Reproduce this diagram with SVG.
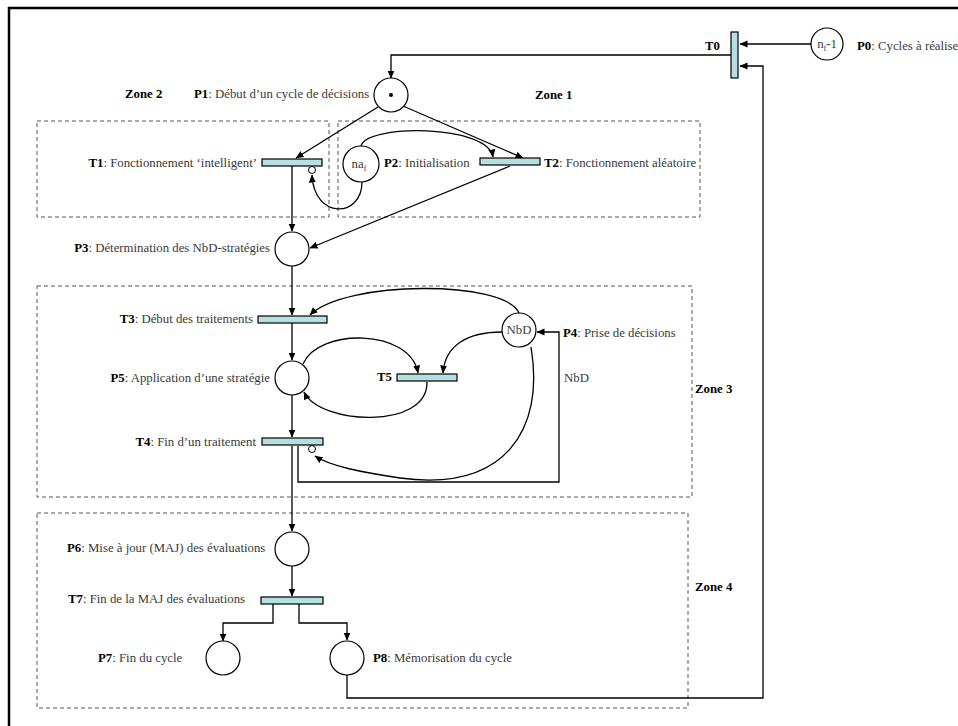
<svg xmlns="http://www.w3.org/2000/svg" width="958" height="726" viewBox="0 0 958 726">
<defs>
<marker id="ah" markerWidth="8" markerHeight="8" refX="7.5" refY="4" orient="auto" markerUnits="userSpaceOnUse">
<path d="M0,0.5 L8,4 L0,7.5 Z" fill="#000"/>
</marker>
</defs>
<style>
text{font-family:"Liberation Serif","Times New Roman",serif;font-size:12.8px;fill:#3a3a3a}
.b{font-weight:bold;fill:#000}
.z{font-weight:bold;fill:#000}
.pl{fill:#fff;stroke:#000;stroke-width:1.2}
.tr{fill:#b6dfe1;stroke:#000;stroke-width:1.2}
.zone{fill:none;stroke:#555;stroke-width:1;stroke-dasharray:4,3}
.c{fill:none;stroke:#000;stroke-width:1.3}
.a{marker-end:url(#ah)}
.inh{fill:#fff;stroke:#000;stroke-width:1}
</style>
<rect x="0" y="0" width="958" height="726" fill="#fff"/>
<rect x="9" y="8" width="1000" height="760" fill="none" stroke="#000" stroke-width="2.5"/>

<g id="zones">
<rect class="zone" x="37" y="121" width="292" height="96"/>
<rect class="zone" x="338" y="121" width="362" height="96"/>
<rect class="zone" x="37" y="286" width="655" height="211"/>
<rect class="zone" x="37" y="513" width="651" height="195"/>
<text class="z" x="125" y="98">Zone 2</text>
<text class="z" x="535" y="99">Zone 1</text>
<text class="z" x="695" y="393">Zone 3</text>
<text class="z" x="695" y="591">Zone 4</text>
</g>

<g id="connectors">
<line class="c a" x1="811" y1="44" x2="740" y2="44"/>
<polyline class="c a" points="731,55 391,55 391,78"/>
<polyline class="c a" points="347,675 347,698 763,698 763,66 740,66"/>
<line class="c a" x1="378" y1="107" x2="296" y2="158"/>
<line class="c a" x1="403" y1="106" x2="523" y2="158"/>
<path class="c a" d="M361,146 C366,124 488,124 493,157"/>
<path class="c a" d="M362,182 C362,218 314,220 312,175"/>
<circle class="inh" cx="312" cy="170" r="3.5"/>
<line class="c a" x1="292" y1="166" x2="292" y2="231"/>
<line class="c a" x1="510" y1="166" x2="310" y2="248"/>
<line class="c a" x1="292" y1="266" x2="292" y2="315"/>
<path class="c a" d="M519,313 C505,280 345,280 310,315"/>
<line class="c a" x1="292" y1="323" x2="292" y2="360"/>
<path class="c a" d="M303,364 C318,328 410,328 418,373"/>
<path class="c a" d="M502,332 C468,332 445,345 443,373"/>
<path class="c a" d="M427,382 C428,430 320,425 304,392"/>
<line class="c a" x1="292" y1="395" x2="292" y2="437"/>
<path class="c a" d="M531,347 C545,430 505,492 400,478 C360,472 330,466 315,456"/>
<circle class="inh" cx="312" cy="449" r="3.5"/>
<polyline class="c a" points="298,446 298,482 559,482 559,332 537,332"/>
<line class="c a" x1="292" y1="446" x2="292" y2="531"/>
<line class="c a" x1="292" y1="566" x2="292" y2="596"/>
<polyline class="c a" points="273,604 273,623 223,623 223,641"/>
<polyline class="c a" points="299,604 299,623 347,623 347,640"/>
</g>

<g id="T0">
<rect class="tr" x="731" y="32" width="7" height="46"/>
<text class="b" x="705" y="50">T0</text>
</g>
<g id="P0">
<circle class="pl" cx="827" cy="44" r="16"/>
<text x="827" y="48" text-anchor="middle" font-size="11">n<tspan dy="3" font-size="8">f</tspan><tspan dy="-3">-1</tspan></text>
<text x="857" y="50" font-size="11"><tspan class="b">P0</tspan>: Cycles à réalise</text>
</g>
<g id="P1">
<circle class="pl" cx="391" cy="95" r="17"/>
<circle cx="391" cy="95" r="2" fill="#000"/>
<text x="194" y="98"><tspan class="b">P1</tspan>: Début d’un cycle de décisions</text>
</g>
<g id="T1">
<rect class="tr" x="262" y="159" width="60" height="7"/>
<text x="257" y="167" text-anchor="end"><tspan class="b">T1</tspan>: Fonctionnement ‘intelligent’</text>
</g>
<g id="P2">
<circle class="pl" cx="361" cy="164" r="18"/>
<text x="359" y="168" text-anchor="middle" font-size="11">na<tspan dy="3" font-size="8">f</tspan></text>
<text x="384" y="167"><tspan class="b">P2</tspan>: Initialisation</text>
</g>
<g id="T2">
<rect class="tr" x="480" y="158" width="60" height="7"/>
<text x="544" y="167"><tspan class="b">T2</tspan>: Fonctionnement aléatoire</text>
</g>
<g id="P3">
<circle class="pl" cx="292" cy="249" r="17"/>
<text x="270" y="252" text-anchor="end"><tspan class="b">P3</tspan>: Détermination des NbD-stratégies</text>
</g>
<g id="T3">
<rect class="tr" x="258" y="316" width="69" height="7"/>
<text x="253" y="323" text-anchor="end"><tspan class="b">T3</tspan>: Début des traitements</text>
</g>
<g id="P4">
<circle class="pl" cx="519" cy="330" r="17"/>
<text x="519" y="334" text-anchor="middle" font-size="12">NbD</text>
<text x="563" y="337"><tspan class="b">P4</tspan>: Prise de décisions</text>
<text x="564" y="382">NbD</text>
</g>
<g id="P5">
<circle class="pl" cx="292" cy="378" r="17"/>
<text x="270" y="382" text-anchor="end"><tspan class="b">P5</tspan>: Application d’une stratégie</text>
</g>
<g id="T5">
<rect class="tr" x="397" y="374" width="60" height="7"/>
<text class="b" x="377" y="381">T5</text>
</g>
<g id="T4">
<rect class="tr" x="262" y="438" width="61" height="7"/>
<text x="256" y="446" text-anchor="end"><tspan class="b">T4</tspan>: Fin d’un traitement</text>
</g>
<g id="P6">
<circle class="pl" cx="292" cy="549" r="17"/>
<text x="67" y="552"><tspan class="b">P6</tspan>: Mise à jour (MAJ) des évaluations</text>
</g>
<g id="T7">
<rect class="tr" x="261" y="597" width="62" height="7"/>
<text x="68" y="603"><tspan class="b">T7</tspan>: Fin de la MAJ des évaluations</text>
</g>
<g id="P7">
<circle class="pl" cx="223" cy="658" r="17"/>
<text x="98" y="662"><tspan class="b">P7</tspan>: Fin du cycle</text>
</g>
<g id="P8">
<circle class="pl" cx="347" cy="658" r="17"/>
<text x="373" y="662"><tspan class="b">P8</tspan>: Mémorisation du cycle</text>
</g>
</svg>
